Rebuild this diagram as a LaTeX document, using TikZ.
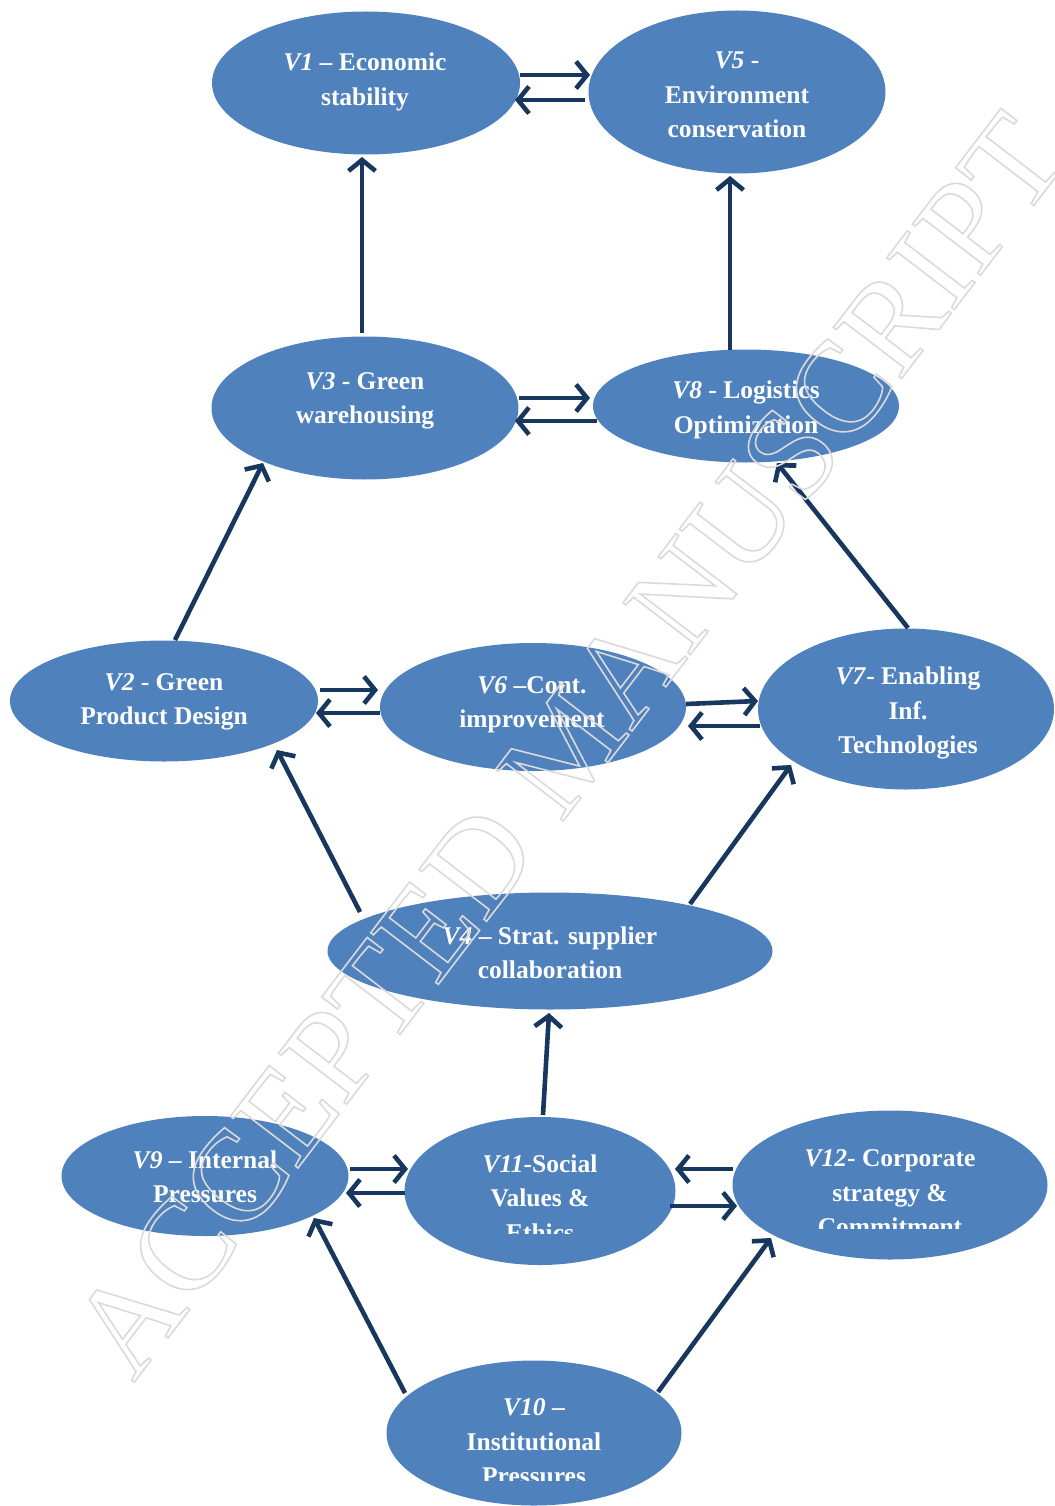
\documentclass[tikz,border=0pt]{standalone}
\usepackage{fontspec}
\setmainfont{Liberation Serif}
\usetikzlibrary{shapes.geometric,arrows.meta,calc}
\definecolor{ellfill}{HTML}{4F81BD}
\definecolor{arrowc}{HTML}{17375E}
\definecolor{wmc}{HTML}{DADADA}
\tikzset{
  ell/.style={ellipse, fill=ellfill, draw=none, inner sep=0pt},
  lbl/.style={text=white, font=\fontsize{25.5}{34.5}\selectfont\bfseries, align=center, inner sep=0pt},
  arr/.style={draw=arrowc, line width=4.6pt, -{Straight Barb[length=11pt,width=27pt]}},
  wm/.style={font=\fontsize{130}{130}\selectfont, inner sep=0pt}
}
\begin{document}
\begin{tikzpicture}[x=1pt,y=-1pt]
\useasboundingbox (0,0) rectangle (1054,1506);
% ellipses
\node[ell, minimum width=308, minimum height=143] (V1) at (366,83) {};
\node[ell, minimum width=297, minimum height=163] (V5) at (737,92) {};
\node[ell, minimum width=307, minimum height=143] (V3) at (365,408) {};
\node[ell, minimum width=306, minimum height=113] (V8) at (746,406) {};
\node[ell, minimum width=308, minimum height=121] (V2) at (164,701) {};
\node[ell, minimum width=306, minimum height=128] (V6) at (533,707) {};
\node[ell, minimum width=296, minimum height=161] (V7) at (906,709) {};
\node[ell, minimum width=445, minimum height=117] (V4) at (550,951) {};
\node[ell, minimum width=287, minimum height=120] (V9) at (205,1176) {};
\node[ell, minimum width=271, minimum height=148] (V11) at (540,1191) {};
\node[ell, minimum width=315, minimum height=149] (V12) at (890,1185) {};
\node[ell, minimum width=295, minimum height=145] (V10) at (534,1433) {};
% labels
\node[lbl] (T1) at (365,82) {\textit{V1} – Economic\\stability};
\node[lbl] (T5) at (737,95) {\textit{V5} -\\Environment\\conservation};
\node[lbl] (T3) at (365,401) {\textit{V3} - Green\\warehousing};
\node[lbl] (T8) at (746,410) {\textit{V8} - Logistics\\Optimization};
\node[lbl] (T2) at (164,702) {\textit{V2} - Green\\Product Design};
\node[lbl] (T6) at (532,705) {\textit{V6} –Cont.\\improvement};
\node[lbl] (T7) at (908,713) {\textit{V7}- Enabling\\Inf.\\Technologies};
\node[lbl] (T4) at (550,953) {\textit{V4} – Strat. supplier\\collaboration};
\node[lbl] (T9) at (205,1177) {\textit{V9} – Internal\\Pressures};
\begin{scope}
\clip (380,1100) rectangle (700,1233);
\node[lbl] (T11) at (540,1198) {\textit{V11}-Social\\Values \&\\Ethics};
\end{scope}
\begin{scope}
\clip (720,1100) rectangle (1054,1228);
\node[lbl] (T12) at (890,1193) {\textit{V12}- Corporate\\strategy \&\\Commitment};
\end{scope}
\begin{scope}
\clip (380,1370) rectangle (700,1480);
\node[lbl] (T10) at (534,1442) {\textit{V10} –\\Institutional\\Pressures};
\end{scope}
% arrows
\draw[arr] ($(V1)+(154,-8)$) -- ($(V5)+(-147,-17)$);
\draw[arr] ($(V5)+(-152,8)$) -- ($(V1)+(149,17)$);
\draw[arr] ($(V3)+(-3,-75)$) -- ($(V1)+(-4,74)$);
\draw[arr] ($(V8)+(-16,-56)$) -- ($(V5)+(-7,84)$);
\draw[arr] ($(V3)+(154,-10)$) -- ($(V8)+(-156,-8)$);
\draw[arr] ($(V8)+(-149,15)$) -- ($(V3)+(150,13)$);
\draw[arr] ($(V2)+(11,-61)$) -- ($(V3)+(-102,55)$);
\draw[arr] ($(V7)+(2,-81)$) -- ($(V8)+(31,57)$);
\draw[arr] ($(V2)+(156,-11)$) -- ($(V6)+(-155,-17)$);
\draw[arr] ($(V6)+(-153,6)$) -- ($(V2)+(152,12)$);
\draw[arr] ($(V6)+(153,-3)$) -- ($(V7)+(-148,-8)$);
\draw[arr] ($(V7)+(-146,17)$) -- ($(V6)+(155,19)$);
\draw[arr] ($(V4)+(-190,-39)$) -- ($(V2)+(113,49)$);
\draw[arr] ($(V4)+(140,-47)$) -- ($(V7)+(-115,56)$);
\draw[arr] ($(V11)+(3,-76)$) -- ($(V4)+(-1,62)$);
\draw[arr] ($(V9)+(145,-7)$) -- ($(V11)+(-132,-22)$);
\draw[arr] ($(V11)+(-135,2)$) -- ($(V9)+(141,17)$);
\draw[arr] ($(V12)+(-157,-16)$) -- ($(V11)+(135,-22)$);
\draw[arr] ($(V11)+(130,15)$) -- ($(V12)+(-153,21)$);
\draw[arr] ($(V10)+(-129,-40)$) -- ($(V9)+(109,42)$);
\draw[arr] ($(V10)+(124,-41)$) -- ($(V12)+(-119,53)$);
% watermark (outlined letters)
\node[wm, rotate=52.6, text=wmc] (WM) at (568,745) {\special{pdf:code 1 Tr 1.6 w}ACCEPTED MANUSCRIPT\special{pdf:code 0 Tr}};
\end{tikzpicture}
\end{document}
